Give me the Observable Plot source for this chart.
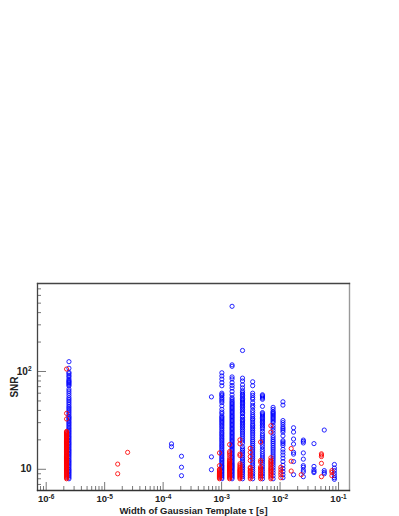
<!DOCTYPE html>
<html>
<head>
<meta charset="utf-8">
<style>
html,body{margin:0;padding:0;background:#fff;}
svg{display:block;font-family:"Liberation Sans",Arial,sans-serif;font-weight:bold;}
</style>
<script src="https://cdn.jsdelivr.net/npm/d3@7"></script>
<script src="https://cdn.jsdelivr.net/npm/@observablehq/plot@0.6"></script>
</head>
<body>
<script>
const xLimits = [7.1e-7, 0.154];
const yLimits = [6.07, 794];
const xMajor = [1e-6, 1e-5, 1e-4, 1e-3, 1e-2, 1e-1];
const yMajor = [10, 100];
const xMinor = [8e-7,9e-7,2e-6,3e-6,4e-6,5e-6,6e-6,7e-6,8e-6,9e-6,2e-5,3e-5,4e-5,5e-5,6e-5,7e-5,8e-5,9e-5,2e-4,3e-4,4e-4,5e-4,6e-4,7e-4,8e-4,9e-4,2e-3,3e-3,4e-3,5e-3,6e-3,7e-3,8e-3,9e-3,2e-2,3e-2,4e-2,5e-2,6e-2,7e-2,8e-2,9e-2];
const yMinor = [7,8,9,20,30,40,50,60,70,80,90,200,300,400,500,600,700];
const xLabels = {"0.000001":"10^-6","0.00001":"10^-5","0.0001":"10^-4","0.001":"10^-3","0.01":"10^-2","0.1":"10^-1"};
const yLabels = {"10":"10","100":"10^2"};

// blue: [tau, SNR values]
const blueA = [8,8.3,8.6,8.9,9.2,9.5,9.8,10.1,10.5,10.9,11.3,11.7,12.1,12.5,13,13.5,14,14.5,15,15.5,16,16.6,17.2,17.8,18.4,19,19.7,20.4,21.1,21.8,22.6,23.4,24.2,25,25.9,26.8,27.8,28.8,29.8,30.8,32,33,34,35,36.5,38,39.5,41,42.5,44,46,48,50,52,54,57,60,63,66,71,73,75,77,79,81,84,88,91,95,98,108,126];
const blueB = [18.2,17];
const blueC = [13.6,10.5,8.6];
const blueD = [55,13.4,9.9];
const blueE = [8,8.3,8.6,8.9,9.2,9.5,9.8,10.1,10.4,10.7,11,11.4,11.8,12.2,12.6,13,13.5,14,14.5,15,15.6,16.2,16.8,17.4,18,18.7,19.4,20.1,20.8,21.6,22.4,23.2,24,25,26,27,28,29,30,31,32,33,34,35,37,38.5,41,44.6,48,50,52,54,56.5,58,60,71.5,77,83.6,90,97];
const blueF = [8,8.3,8.6,8.9,9.2,9.5,9.8,10.1,10.4,10.7,11,11.3,11.6,12,12.4,12.8,13.2,13.6,14,14.5,15,15.5,16,16.5,17,17.5,18,18.6,19.2,19.8,20.4,21,21.7,22.4,23.1,23.8,24.6,25.4,26.2,27,27.9,28.8,29.7,30.6,31.6,32.6,33.6,34.6,35.7,36.8,38,39.2,40.4,41.6,42.9,44.2,45.6,47,48.5,50,52,54,57.8,62.5,67.7,72,77,84,88,113,117,464];
const blueG = [8,8.4,8.8,9.2,9.6,10,10.4,10.8,11.2,11.7,12.2,12.7,13.2,13.8,14.4,15,15.6,16.2,17,18.5,19.5,20.5,21.5,22.5,23.5,24.5,25.5,26.5,27.5,28.5,29.5,30.5,31.5,32.5,34,35,37,38,39.5,41,42.5,44,45.5,47,48.5,50,51.5,53,55,57,58.7,61,63.6,68,73,80,85.5,164];
const blueH = [8,8.5,9,9.5,10,10.5,11,11.6,12.2,12.8,13.4,14,14.7,15.4,16.1,16.8,17.6,18.4,19.2,20,21,22,23,24,25,26,27,28,29,30.5,32,33,34.5,36,38,40,43,45,48,52,54,57,60,71.5,78.5];
const blueI = [8,8.5,9,9.5,10,10.6,11.2,11.8,12.4,13,13.7,14.4,15.2,16,17,18,19,20,21,22,23,24.5,26,27,28,29,30,31,32,33,34,35,36,37,38,44,52,53.5,55,56.5,57.8];
const blueJ = [8,8.6,9.2,9.8,10.4,11,11.6,12.2,12.8,13.4,14,14.7,15.4,16.1,16.8,17.6,18.4,19.2,20,21,22,23.5,25,26.5,28,30,31,32,33,34,35,36,37,38,39,41,43];
const blueK = [8.2,8.8,9.5,10.2,11,12,13,14,15,16,17.5,18.3,19,19.6,22,24,25,26,27,28.5,30,31.5,45.3,49];
const blueL = [8.8,12,14.3,14.9,18.1,20.4,24,26.6];
const blueM = [8.4,9.4,9.8,10.5,10.9,12.7,14.7,18.6,19.3,19.9];
const blueN = [9.25,9.5,9.9,10.7,18.3];
const blueO = [9,9.3,9.7,25.2];
const blueP = [7.9,8.2,8.6,9.1,9.7,10.3,11.2];
const blueTau = [2.45e-6,1.39e-4,2.06e-4,6.7e-4,1.01e-3,1.51e-3,2.28e-3,3.4e-3,5e-3,7.6e-3,1.12e-2,1.7e-2,2.5e-2,3.8e-2,5.7e-2,8.5e-2];
const blueSnr = [blueA,blueB,blueC,blueD,blueE,blueF,blueG,blueH,blueI,blueJ,blueK,blueL,blueM,blueN,blueO,blueP];

// red: [tau, SNR values]
const redA = [8,8.2,8.4,8.6,8.8,9,9.2,9.4,9.6,9.8,10,10.2,10.4,10.6,10.8,11,11.2,11.4,11.6,11.8,12,12.2,12.4,12.6,12.8,13,13.2,13.4,13.6,13.8,14,14.3,14.6,14.9,15.2,15.5,15.8,16.1,16.4,16.7,17,17.3,17.6,17.9,18.2,18.5,18.8,19.1,19.4,19.7,20,20.4,20.8,21.2,21.6,22,22.4,22.8,23.2,23.6,24,24.4,32.7,37.3,106];
const redB = [9,11.3];
const redC = [14.9];
const redD = [8,8.2,8.4,8.6,8.8,9,9.2,9.4,9.6,9.8,10,10.9,14.7];
const redE = [8,8.2,8.4,8.6,8.8,9,9.2,9.4,9.6,9.8,10,10.2,10.4,10.6,10.8,11,11.2,11.4,11.7,12,12.3,12.6,13.2,14,14.7,15.2,17.9];
const redF = [8,8.2,8.4,8.6,8.8,9,9.2,9.4,9.6,9.8,10,10.3,10.6,11,11.4,13.8,14.3,18.2,20];
const redG = [8,8.3,8.6,8.9,9.2,9.5,9.8,10.2,10.5,12.3,13.5,14.9,16.4];
const redH = [8,8.3,8.6,8.9,9.2,9.6,10,10.3,10.6,11.8,12.3,19];
const redI = [8,8.3,8.6,8.9,9.2,9.5,9.8,10.1,10.4,10.8,11.2,11.6,12,12.4,13.1,24,27.9];
const redJ = [8.2,8.8,9.3,9.9,10.5];
const redK = [9.6,12.1,16.3];
const redL = [8.8];
const redM = [8.4,11.5,13.5,14,14.4];
const redN = [8.6,9.3,9.7];
const redTau = [2.23e-6,1.67e-5,2.47e-5,9.2e-4,1.37e-3,2.06e-3,3.09e-3,4.64e-3,6.96e-3,1.03e-2,1.55e-2,2.3e-2,5.1e-2,7.7e-2];
const redSnr = [redA,redB,redC,redD,redE,redF,redG,redH,redI,redJ,redK,redL,redM,redN];

const flatten = (taus, snrs) => taus.flatMap((t,i) => snrs[i].map(s => ({tau:t, snr:s})));
const blue = flatten(blueTau, blueSnr);
const red = flatten(redTau, redSnr);

const tickColor = "#555";
const chart = Plot.plot({
  width: 399,
  height: 516,
  marginLeft: 37,
  marginRight: 50,
  marginTop: 283,
  marginBottom: 26,
  x: {type:"log", domain:xLimits},
  y: {type:"log", domain:yLimits},
  style: {fontFamily:'"Liberation Sans",Arial,sans-serif', fontWeight:"bold", fontSize:"9.5px", color:"#222", background:"#fff"},
  marks: [
    Plot.dot(blue, {x:"tau", y:"snr", r:2.1, stroke:"#0000ff", strokeWidth:0.85, fill:"none"}),
    Plot.dot(red, {x:"tau", y:"snr", r:2.1, stroke:"#ff0000", strokeWidth:0.85, fill:"none"}),
    Plot.axisX({ticks:xMinor, tickSize:-4, tickFormat:() => "", stroke:tickColor, strokeWidth:0.8, label:null}),
    Plot.axisX({ticks:xMajor, tickSize:-8, tickPadding:13, tickFormat:d => xLabels[String(d)] ?? "", stroke:tickColor, strokeWidth:0.8, fill:"#222", fontSize:9.5,
      label:"Width of Gaussian Template τ [s]", labelAnchor:"center", labelOffset:23, labelArrow:"none"}),
    Plot.axisY({ticks:yMinor, tickSize:-4, tickFormat:() => "", stroke:tickColor, strokeWidth:0.8, label:null}),
    Plot.axisY({ticks:yMajor, tickSize:-9, tickPadding:15, tickFormat:d => yLabels[String(d)] ?? "", stroke:tickColor, strokeWidth:0.8, fill:"#222", fontSize:10,
      label:"SNR", labelAnchor:"center", labelOffset:27, labelArrow:"none"}),
    Plot.frame({anchor:"right", stroke:"#999", strokeWidth:1.4}),
    Plot.frame({anchor:"top", stroke:"#444", strokeWidth:1.3}),
    Plot.frame({anchor:"left", stroke:"#444", strokeWidth:1.3}),
    Plot.frame({anchor:"bottom", stroke:"#333", strokeWidth:1.3})
  ]
});
// real superscripts for the tick exponents
chart.querySelectorAll("text").forEach(t => {
  const m = t.textContent.match(/^10\^(-?\d)$/);
  if (!m) return;
  t.textContent = "10";
  const s = document.createElementNS("http://www.w3.org/2000/svg", "tspan");
  s.setAttribute("dy", "-3.5");
  s.setAttribute("font-size", "6.5");
  s.textContent = m[1];
  t.appendChild(s);
});
document.body.appendChild(chart);
</script>
</body>
</html>
